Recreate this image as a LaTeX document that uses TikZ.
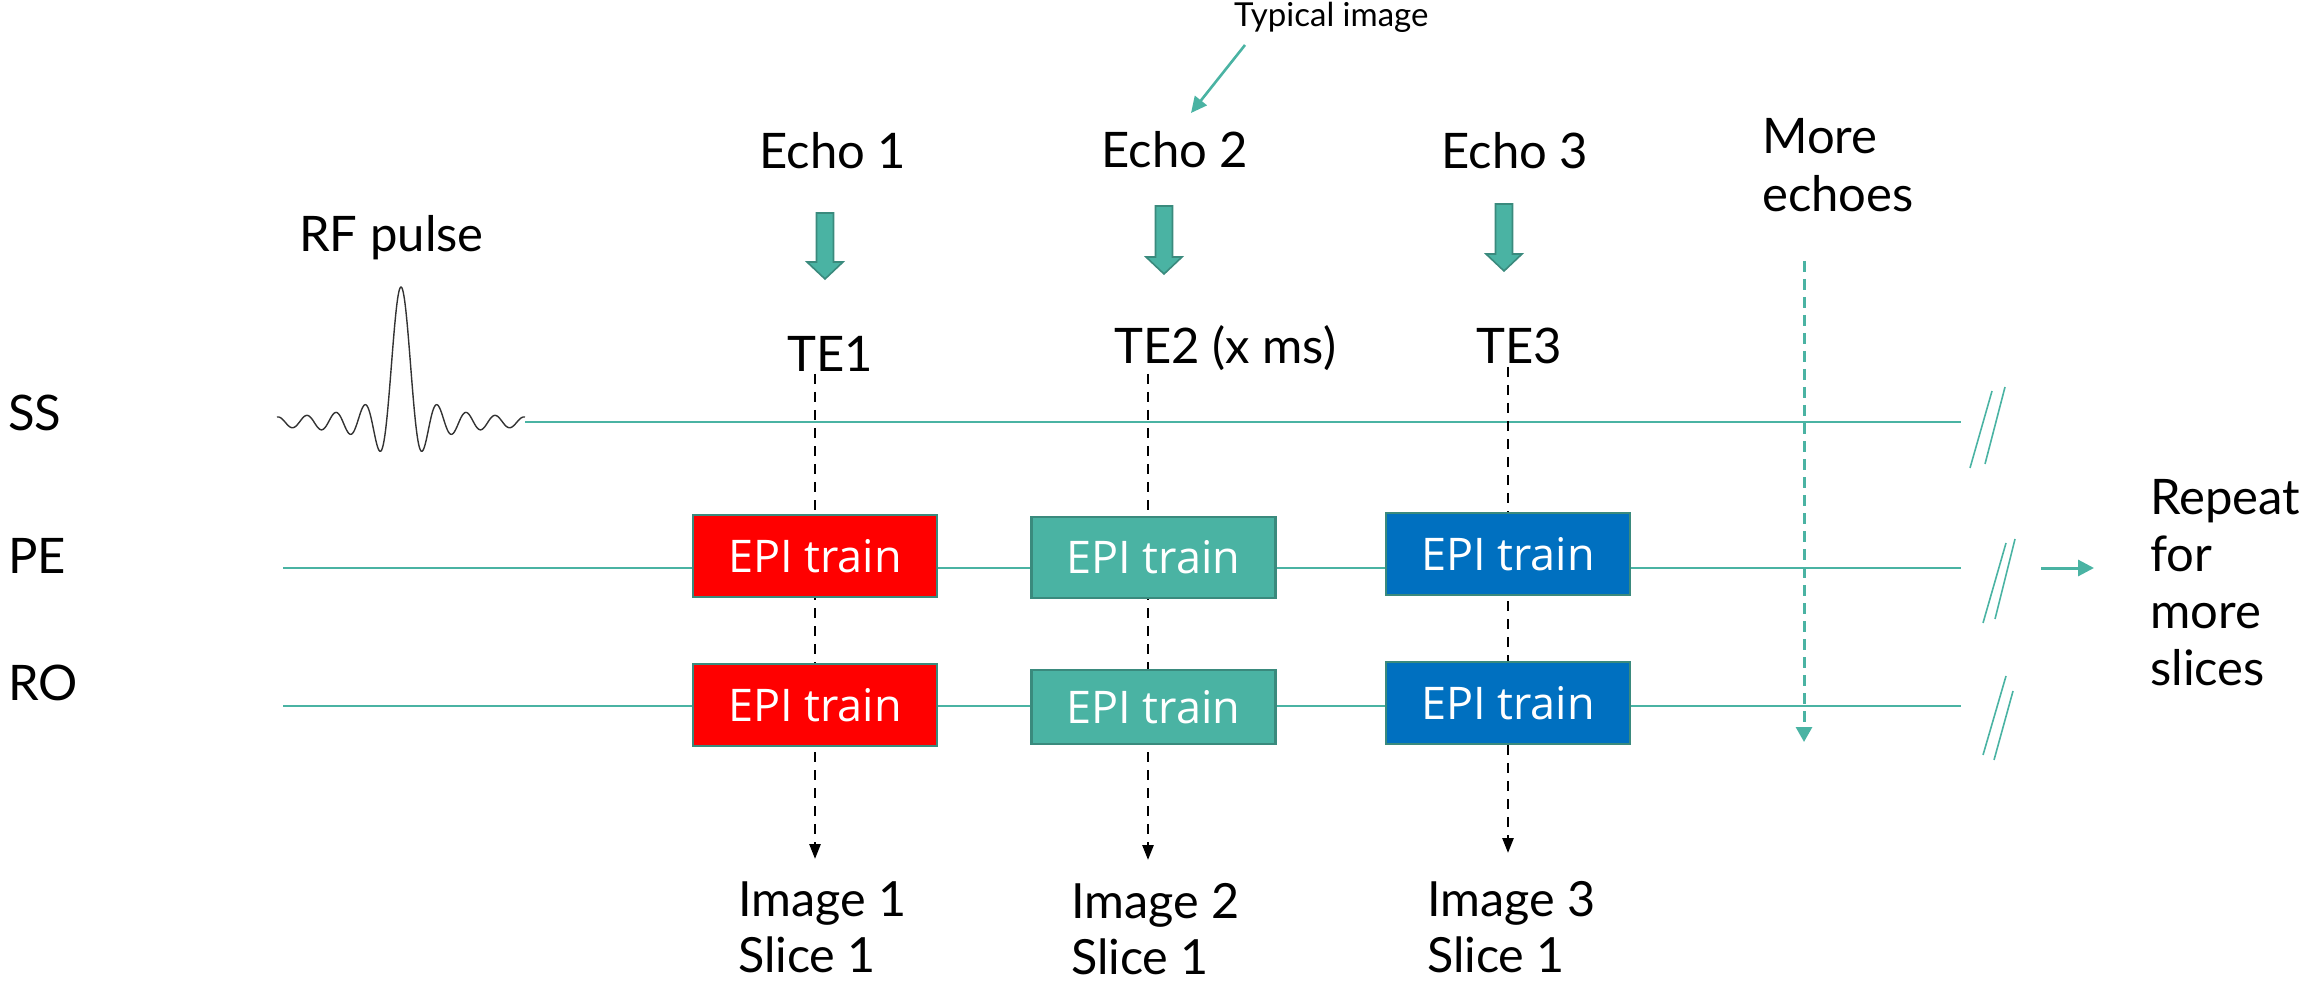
\documentclass[tikz,border=0pt]{standalone}
\usepackage{fontspec}
\setmainfont{Lato}
\newfontfamily\epifont{Open Sans}
\usetikzlibrary{arrows.meta}

\definecolor{seqteal}{HTML}{4AB3A3}
\definecolor{seqtealdark}{HTML}{3A8A7D}
\definecolor{epired}{HTML}{FF0000}
\definecolor{epiblue}{HTML}{0070C0}
\definecolor{wavegray}{HTML}{333333}

\newcommand\echoarrow[3]{%
  \draw[blockarrow] ({#1-8.5},#2) -- ({#1+8.5},#2) -- ({#1+8.5},{#3-17})
    -- ({#1+18},{#3-17}) -- (#1,#3) -- ({#1-18},{#3-17}) -- ({#1-8.5},{#3-17}) -- cycle;}

\begin{document}
\begin{tikzpicture}[x=1pt,y=-1pt,
  lbl/.style={inner sep=0pt, anchor=base west, font=\fontsize{49}{58}\selectfont},
  lblc/.style={lbl, anchor=base},
  small/.style={inner sep=0pt, anchor=base west, font=\fontsize{33}{40}\selectfont},
  imglbl/.style={inner sep=0pt, anchor=base west, font=\fontsize{48.5}{58}\selectfont},
  axis/.style={draw=seqteal, line width=1.8pt},
  brk/.style={draw=seqteal, line width=1.6pt},
  epibox/.style={draw=seqtealdark, line width=2.2pt, minimum width=244pt,
    minimum height=82pt, inner sep=0pt, text=white,
    font=\epifont\fontsize{45}{54}\selectfont},
  blockarrow/.style={fill=seqteal, draw=seqtealdark, line width=1.6pt, line join=miter},
  tedash/.style={draw=black, line width=2.6pt, dash pattern=on 10pt off 8pt,
    -{Triangle[length=15pt,width=11pt]}},
  tealarrow/.style={draw=seqteal, line width=3pt, -{Triangle[length=16pt,width=16pt]}},
]
\useasboundingbox (0,0) rectangle (2305,981);

% gradient channel labels
\node[lbl] (ss) at (8,430) {SS};
\node[lbl] (pe) at (8,573) {PE};
\node[lbl] (ro) at (8,700) {RO};

% RF excitation pulse (sinc shape, zero crossings every 14.5 units)
\node[lbl] (rf) at (299,252) {RF pulse};
\coordinate (rfstart) at (277,422);
\coordinate (rfend) at (525,422);
\draw[wavegray, line width=1.4pt, line join=round]
  plot[domain=-124:124, samples=400, smooth]
  ({401+\x}, {422 - 135*sin(\x*12.41379)/(\x*0.216662)});

% time axes
\coordinate (ssend) at (1961,422);
\coordinate (pestart) at (283,568);
\coordinate (peend) at (1961,568);
\coordinate (rostart) at (283,706);
\coordinate (roend) at (1961,706);
\draw[axis] (rfend) -- (ssend);
\draw[axis] (pestart) -- (peend);
\draw[axis] (rostart) -- (roend);

% axis break marks
\draw[brk] (1970,468) -- (1992,391) (1985,464) -- (2005,387);
\draw[brk] (1983,623) -- (2006,543) (1995,619) -- (2015,539);
\draw[brk] (1983,755) -- (2006,676) (1994,760) -- (2013,691);

% echo labels and block arrows
\node[lblc] (echo1) at (833,169) {Echo 1};
\node[lblc] (echo2) at (1175,168) {Echo 2};
\node[lblc] (echo3) at (1515,169) {Echo 3};
\echoarrow{825}{213}{279}
\echoarrow{1164}{206}{274}
\echoarrow{1504}{204}{271}

% annotation
\node[small] (typical) at (1234,27) {Typical image};
\coordinate (typtail) at (1245,45);
\coordinate (typtip) at (1191,113);
\draw[seqteal, line width=2.6pt, -{Triangle[length=16pt,width=15pt]}] (typtail) -- (typtip);

% echo times
\node[lbl] (te1) at (787,372) {TE1};
\node[lbl] (te2) at (1114,364) {TE2 (x ms)};
\node[lbl] (te3) at (1476,364) {TE3};

% images
\node[imglbl] (img1) at (738,916) {Image 1};
\node[imglbl] (sl1) at (738,972) {Slice 1};
\node[imglbl] (img2) at (1071,918) {Image 2};
\node[imglbl] (sl2) at (1071,974) {Slice 1};
\node[imglbl] (img3) at (1427,916) {Image 3};
\node[imglbl] (sl3) at (1427,972) {Slice 1};

% echo-time markers down to the images
\coordinate (d1a) at (815,374); \coordinate (d1b) at (815,859);
\coordinate (d2a) at (1148,374); \coordinate (d2b) at (1148,860);
\coordinate (d3a) at (1508,367); \coordinate (d3b) at (1508,853);
\draw[tedash] (d1a) -- (d1b);
\draw[tedash] (d2a) -- (d2b);
\draw[tedash] (d3a) -- (d3b);

% EPI readout trains
\node[epibox, fill=epired] (pe1) at (815,556) {EPI train};
\node[epibox, fill=epired] (ro1) at (815,705) {EPI train};
\node[epibox, fill=seqteal, minimum height=81pt] (pe2) at (1153.5,557.5) {EPI train};
\node[epibox, fill=seqteal, minimum height=74pt] (ro2) at (1153.5,707) {EPI train};
\node[epibox, fill=epiblue] (pe3) at (1508,554) {EPI train};
\node[epibox, fill=epiblue] (ro3) at (1508,703) {EPI train};

% further echoes
\node[lbl] (more1) at (1762,154) {More};
\node[lbl] (more2) at (1762,212) {echoes};
\coordinate (mea) at (1804,261);
\coordinate (meb) at (1804,742);
\draw[seqteal, line width=3pt, dash pattern=on 11pt off 7pt,
  -{Triangle[length=15pt,width=16pt]}] (mea) -- (meb);

% repeat for further slices
\coordinate (repa) at (2041,568);
\coordinate (repb) at (2094,568);
\draw[tealarrow] (repa) -- (repb);
\node[lbl] (rep1) at (2150,514) {Repeat};
\node[lbl] (rep2) at (2150,571) {for};
\node[lbl] (rep3) at (2150,628) {more};
\node[lbl] (rep4) at (2150,685) {slices};
\end{tikzpicture}
\end{document}
